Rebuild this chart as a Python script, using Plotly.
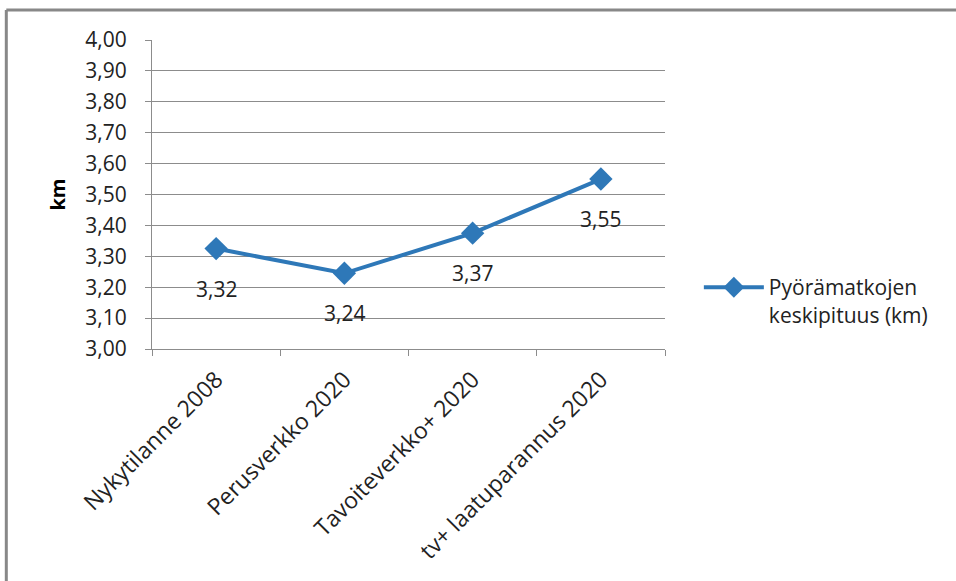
import plotly.graph_objects as go

categories = ["Nykytilanne 2008", "Perusverkko 2020", "Tavoiteverkko+ 2020", "tv+ laatuparannus 2020"]
values = [3.325, 3.245, 3.375, 3.55]
labels = ["3,32", "3,24", "3,37", "3,55"]
series_name = "Pyörämatkojen<br>keskipituus (km)"
y_title = "km"

FONT = "Open Sans"
COLOR = "#2E78B8"
GRID = "#8C8C8C"
FS = 21

fig = go.Figure()
fig.add_trace(go.Scatter(
    x=categories, y=values, mode="lines+markers", name=series_name,
    line=dict(color=COLOR, width=4),
    marker=dict(symbol="diamond", size=18, color=COLOR),
))
for c, v, t in zip(categories, values, labels):
    fig.add_annotation(x=c, y=v, text=t, showarrow=False, yshift=-40,
                       font=dict(family=FONT, size=FS, color="#222222"))

fig.update_layout(
    width=956, height=581,
    margin=dict(l=152, r=291, t=40, b=232),
    paper_bgcolor="white", plot_bgcolor="white",
    separators=", ",
    font=dict(family=FONT, size=FS, color="#222222"),
    showlegend=True,
    legend=dict(x=1.066, y=0.155, xanchor="left", yanchor="middle",
                valign="top", itemwidth=60, tracegroupgap=0,
                font=dict(family=FONT, size=FS, color="#222222")),
    shapes=[
        dict(type="line", xref="paper", yref="paper",
             x0=-0.284, x1=1.6, y0=1.097, y1=1.097,
             line=dict(color="#888888", width=3)),
        dict(type="line", xref="paper", yref="paper",
             x0=-0.284, x1=-0.284, y0=1.097, y1=-0.8,
             line=dict(color="#888888", width=3)),
    ],
)
fig.update_xaxes(
    type="category", range=[-0.5, 3.5], tickson="boundaries",
    ticks="outside", ticklen=6, tickcolor=GRID,
    showline=True, linecolor=GRID, linewidth=1, showgrid=False,
    tickangle=-45, ticklabelstandoff=7,
    tickfont=dict(family=FONT, size=23, color="#222222"),
)
fig.update_yaxes(
    range=[3.0, 4.0], dtick=0.1, tick0=3.0, tickformat=".2f",
    ticks="outside", ticklen=6, tickcolor=GRID,
    showline=True, linecolor=GRID, linewidth=1,
    showgrid=True, gridcolor=GRID, gridwidth=1,
    zeroline=False, ticklabelstandoff=14,
    tickfont=dict(family=FONT, size=FS, color="#222222"),
    title=dict(text="<b>km</b>", font=dict(family=FONT, size=20, color="#000000"), standoff=14),
)

fig.write_html("out.html")
